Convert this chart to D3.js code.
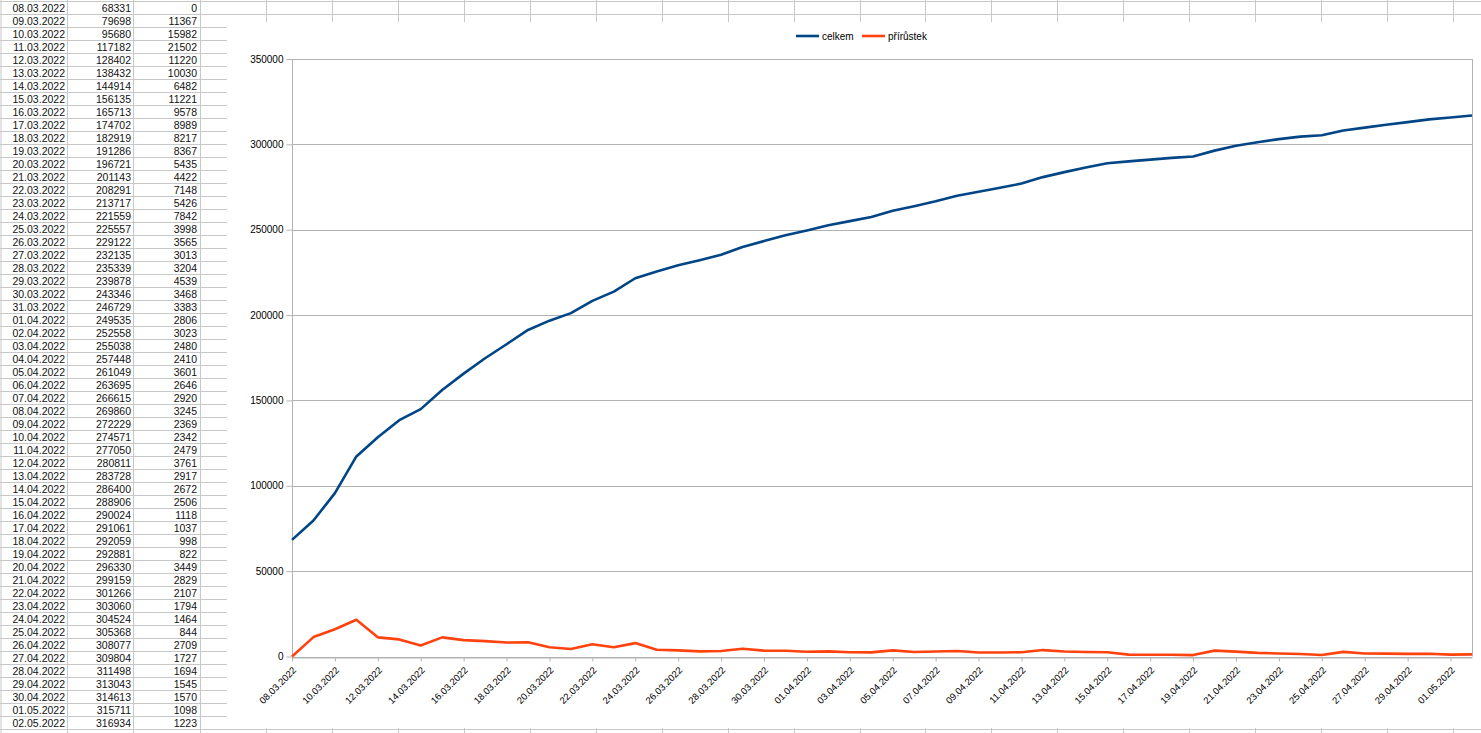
<!DOCTYPE html>
<html><head><meta charset="utf-8">
<script src="https://cdn.jsdelivr.net/npm/d3@7"></script>
<style>
html,body{margin:0;padding:0;background:#fff;}
svg{display:block;font-family:"Liberation Sans",Arial,sans-serif;}
</style></head>
<body>
<script>
const dates = ["08.03.2022","09.03.2022","10.03.2022","11.03.2022","12.03.2022","13.03.2022","14.03.2022","15.03.2022","16.03.2022","17.03.2022",
"18.03.2022","19.03.2022","20.03.2022","21.03.2022","22.03.2022","23.03.2022","24.03.2022","25.03.2022","26.03.2022","27.03.2022",
"28.03.2022","29.03.2022","30.03.2022","31.03.2022","01.04.2022","02.04.2022","03.04.2022","04.04.2022","05.04.2022","06.04.2022",
"07.04.2022","08.04.2022","09.04.2022","10.04.2022","11.04.2022","12.04.2022","13.04.2022","14.04.2022","15.04.2022","16.04.2022",
"17.04.2022","18.04.2022","19.04.2022","20.04.2022","21.04.2022","22.04.2022","23.04.2022","24.04.2022","25.04.2022","26.04.2022",
"27.04.2022","28.04.2022","29.04.2022","30.04.2022","01.05.2022","02.05.2022"];
const celkem = [68331,79698,95680,117182,128402,138432,144914,156135,165713,174702,
182919,191286,196721,201143,208291,213717,221559,225557,229122,232135,
235339,239878,243346,246729,249535,252558,255038,257448,261049,263695,
266615,269860,272229,274571,277050,280811,283728,286400,288906,290024,
291061,292059,292881,296330,299159,301266,303060,304524,305368,308077,
309804,311498,313043,314613,315711,316934];
const prirustek = [0,11367,15982,21502,11220,10030,6482,11221,9578,8989,
8217,8367,5435,4422,7148,5426,7842,3998,3565,3013,
3204,4539,3468,3383,2806,3023,2480,2410,3601,2646,
2920,3245,2369,2342,2479,3761,2917,2672,2506,1118,
1037,998,822,3449,2829,2107,1794,1464,844,2709,
1727,1694,1545,1570,1098,1223];
const seriesNames = ["celkem","přírůstek"];
const yTicks = [0,50000,100000,150000,200000,250000,300000,350000];

const W = 1481, H = 733;
const svg = d3.select("body").append("svg").attr("width", W).attr("height", H);
svg.append("rect").attr("width", W).attr("height", H).attr("fill", "#fff");

// spreadsheet grid
const gridColor = "#c8c8c8";
const rowH = 13, rowTop = 1;
const colX = [0.5, 67, 133];
for (let x = 200; x < W + 1; x += 65.95) colX.push(Math.round(x));
const g0 = svg.append("g");
for (let k = 0; k * rowH + rowTop < H; k++) {
  g0.append("line").attr("x1", 0).attr("x2", W)
    .attr("y1", rowTop + k * rowH + 0.5).attr("y2", rowTop + k * rowH + 0.5)
    .attr("stroke", gridColor).attr("stroke-width", 1);
}
colX.forEach(x => g0.append("line").attr("x1", x + 0.5).attr("x2", x + 0.5)
  .attr("y1", 0).attr("y2", H).attr("stroke", gridColor).attr("stroke-width", 1));

// table text
const tg = svg.append("g").style("font-size", "10.5px").attr("fill", "#111");
dates.forEach((d, i) => {
  const yb = 11.8 + i * rowH;
  tg.append("text").attr("x", 65).attr("y", yb).attr("text-anchor", "end").text(d);
  tg.append("text").attr("x", 131).attr("y", yb).attr("text-anchor", "end").text(celkem[i]);
  tg.append("text").attr("x", 197).attr("y", yb).attr("text-anchor", "end").text(prirustek[i]);
});

// chart object
const cg = svg.append("g");
cg.append("rect").attr("x", 227).attr("y", 22).attr("width", W - 227).attr("height", 706).attr("fill", "#fff");

const x = d3.scalePoint().domain(dates).range([292, 1472]);
const y = d3.scaleLinear().domain([0, 350000]).range([656.5, 59]);

// horizontal gridlines
cg.append("g").selectAll("line").data(yTicks).join("line")
  .attr("x1", 292).attr("x2", 1472)
  .attr("y1", d => Math.round(y(d)) + 0.5).attr("y2", d => Math.round(y(d)) + 0.5)
  .attr("stroke", "#b3b3b3").attr("stroke-width", 1);
// right frame
cg.append("line").attr("x1", 1472.5).attr("x2", 1472.5).attr("y1", y(350000)).attr("y2", y(0))
  .attr("stroke", "#b3b3b3");

// y axis
const ya = cg.append("g").attr("transform", "translate(292.5,0)")
  .call(d3.axisLeft(y).tickValues(yTicks).tickSize(6).tickPadding(3).tickFormat(d3.format("d")));
ya.selectAll("path,line").attr("stroke", "#b3b3b3");
ya.selectAll("text").style("font-size", "10px").style("font-family", "Liberation Sans, Arial, sans-serif").attr("fill", "#000");
ya.select(".domain").attr("d", `M0,${y(350000)}V${y(0)}`);

// x axis
const xTickVals = dates.filter((d, i) => i % 2 === 0);
const xa = cg.append("g").attr("transform", `translate(0,${Math.round(y(0)) + 0.5})`)
  .call(d3.axisBottom(x).tickValues(xTickVals).tickSize(4).tickSizeOuter(0));
xa.selectAll("path,line").attr("stroke", "#b3b3b3");
xa.selectAll("text")
  .style("font-size", "9.5px").style("font-family", "Liberation Sans, Arial, sans-serif").attr("fill", "#000")
  .attr("text-anchor", "end").attr("x", 0).attr("y", 0).attr("dy", "0.35em")
  .attr("transform", "translate(2,11) rotate(-45)");

// lines
const colors = ["#004586", "#ff420e"];
const series = [celkem, prirustek];
series.forEach((s, si) => {
  cg.append("path").datum(s)
    .attr("fill", "none").attr("stroke", colors[si]).attr("stroke-width", 2.6)
    .attr("stroke-linejoin", "round")
    .attr("d", d3.line().x((d, i) => x(dates[i])).y(d => y(d)));
});

// legend
const lg = cg.append("g").style("font-size", "10px");
const legendX = [796, 862];
seriesNames.forEach((n, i) => {
  lg.append("line").attr("x1", legendX[i]).attr("x2", legendX[i] + 23).attr("y1", 36).attr("y2", 36)
    .attr("stroke", colors[i]).attr("stroke-width", 2.6);
  lg.append("text").attr("x", legendX[i] + 26).attr("y", 39.5).attr("fill", "#000").text(n);
});
</script>
</body></html>
